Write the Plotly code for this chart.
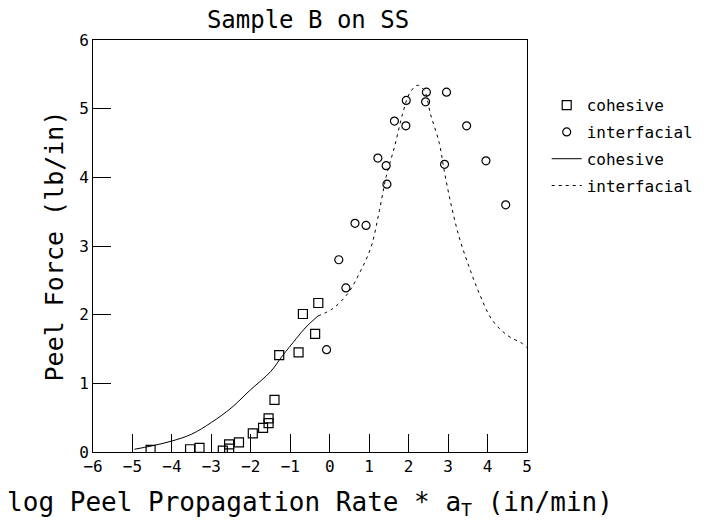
"""Peel force vs reduced peel rate, Sample B on SS."""
import plotly.graph_objects as go

FONT = "DejaVu Sans Mono"

# measured points, cohesive failure
coh_x = [-4.54, -3.54, -3.30, -2.71, -2.55, -2.55, -2.30, -1.95, -1.69, -1.55,
         -1.55, -1.40, -1.28, -0.79, -0.68, -0.37, -0.29]
coh_y = [0.03, 0.04, 0.06, 0.02, 0.05, 0.11, 0.14, 0.27, 0.35, 0.42,
         0.49, 0.76, 1.41, 1.45, 2.01, 1.72, 2.17]

# measured points, interfacial failure
int_x = [-0.08, 0.41, 0.23, 0.64, 0.92, 1.45, 1.22, 1.43, 1.64, 1.93,
         1.94, 2.45, 2.43, 2.96, 2.91, 3.47, 3.96, 4.46]
int_y = [1.49, 2.39, 2.80, 3.33, 3.30, 3.90, 4.28, 4.17, 4.82, 4.75,
         5.12, 5.24, 5.10, 5.24, 4.19, 4.75, 4.24, 3.60]

# model curves
coh_fit_x = [-4.95, -4.5, -4.0, -3.5, -3.0, -2.5, -2.0, -1.5, -1.2, -0.85, -0.6, -0.3]
coh_fit_y = [0.04, 0.09, 0.16, 0.26, 0.43, 0.64, 0.91, 1.17, 1.40, 1.65, 1.82, 1.98]

int_fit_x = [-0.3, 0.08, 0.46, 0.75, 1.05, 1.26, 1.43, 1.64, 1.85, 2.02, 2.22, 2.39,
             2.56, 2.78, 2.90, 3.07, 3.28, 3.53, 3.79, 4.12, 4.50, 4.88, 5.0]
int_fit_y = [1.98, 2.09, 2.31, 2.60, 2.99, 3.52, 4.01, 4.44, 4.93, 5.22, 5.34, 5.27,
             4.91, 4.49, 4.10, 3.62, 3.13, 2.70, 2.31, 1.92, 1.70, 1.58, 1.52]

x_ticks = list(range(-6, 6))
y_ticks = list(range(0, 7))

fig = go.Figure()

fig.add_trace(go.Scatter(
    x=coh_x, y=coh_y, mode="markers", name="cohesive", legendgroup="a",
    marker=dict(symbol="square-open", size=9, color="black", line=dict(width=1.2)),
))
fig.add_trace(go.Scatter(
    x=int_x, y=int_y, mode="markers", name="interfacial", legendgroup="b",
    marker=dict(symbol="circle-open", size=8, color="black", line=dict(width=1.2)),
))
fig.add_trace(go.Scatter(
    x=coh_fit_x, y=coh_fit_y, mode="lines", name="cohesive", legendgroup="c",
    line=dict(color="black", width=1, shape="spline"),
))
fig.add_trace(go.Scatter(
    x=int_fit_x, y=int_fit_y, mode="lines", name="interfacial", legendgroup="d",
    line=dict(color="black", width=1, dash="3px,4px", shape="spline"),
))

axis_common = dict(
    showgrid=False, zeroline=False, showline=True, linecolor="black", linewidth=1,
    mirror=True, ticks="inside", ticklen=18, tickcolor="black", tickwidth=1,
    tickfont=dict(family=FONT, size=16, color="black"), automargin=False,
)

# page body has an 8px margin, so the figure is sized to fit inside it
fig.update_layout(
    width=701, height=521,
    margin=dict(l=85, r=181, t=32, b=77),
    paper_bgcolor="white", plot_bgcolor="white",
    font=dict(family=FONT, color="black"),
    title=dict(text="Sample B on SS", x=0.428, xanchor="center",
               yref="paper", y=1, yanchor="bottom", pad=dict(b=12),
               font=dict(family=FONT, size=24)),
    xaxis=dict(axis_common, range=[-6, 5], tickvals=x_ticks,
               title=dict(text="log Peel Propagation Rate * a<sub>T</sub> (in/min)",
                          font=dict(family=FONT, size=26), standoff=17)),
    yaxis=dict(axis_common, range=[0, 6], tickvals=y_ticks,
               title=dict(text="Peel Force (lb/in)",
                          font=dict(family=FONT, size=25), standoff=8)),
    legend=dict(x=1.043, y=0.883, xanchor="left", yanchor="top",
                font=dict(family=FONT, size=16), tracegroupgap=3,
                bgcolor="rgba(0,0,0,0)"),
    showlegend=True,
)

fig.write_html("out.html")
